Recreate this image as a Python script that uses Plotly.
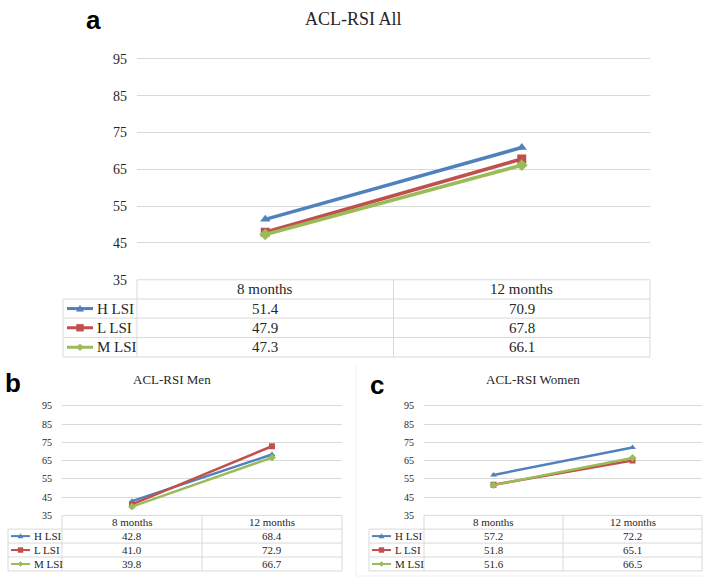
import plotly.graph_objects as go

# ---------------- data ----------------
months = ["8 months", "12 months"]
series_names = ["H LSI", "L LSI", "M LSI"]
y_ticks = [35, 45, 55, 65, 75, 85, 95]

all_h = [51.4, 70.9]
all_l = [47.9, 67.8]
all_m = [47.3, 66.1]

men_h = [42.8, 68.4]
men_l = [41.0, 72.9]
men_m = [39.8, 66.7]

women_h = [57.2, 72.2]
women_l = [51.8, 65.1]
women_m = [51.6, 66.5]

titles = ["ACL-RSI All", "ACL-RSI Men", "ACL-RSI Women"]
letters = ["a", "b", "c"]

# ---------------- styles ----------------
W, H = 706, 586
colors = ["#4F81BD", "#C0504D", "#9BBB59"]
symbols = ["triangle-up", "square", "diamond"]
GRID = "#d9d9d9"
TXT = "#262626"
SERIF = "Liberation Serif"
SANS = "Liberation Sans"
YMIN, YMAX, YTOP = 35, 95, 95.6


def px(x):
    return x / W


def py(y):
    return 1 - y / H


panels = [
    dict(data=[all_h, all_l, all_m], x0=137, x1=650, ytop=55, ybot=281,
         leg0=63, rows=[281, 300.7, 320.2, 340, 360], key=(67, 93), txt=95,
         tick=14, font=15, tfont=18, lw=3.5, ms=9, kms=7,
         title_xy=(353, 14), letter_xy=(93, 15)),
    dict(data=[men_h, men_l, men_m], x0=62, x1=342, ytop=410, ybot=522,
         leg0=8, rows=[522, 536, 550.3, 564.5, 578.8], key=(11, 30), txt=32,
         tick=10, font=11, tfont=13, lw=2.5, ms=6, kms=5,
         title_xy=(172, 383), letter_xy=(13, 387)),
    dict(data=[women_h, women_l, women_m], x0=424, x1=702, ytop=410, ybot=522,
         leg0=369, rows=[522, 536, 550.3, 564.5, 578.8], key=(372, 391), txt=393,
         tick=10, font=11, tfont=13, lw=2.5, ms=6, kms=5,
         title_xy=(533, 383), letter_xy=(377, 389)),
]

fig = go.Figure()
shapes = []
annotations = []

for i, p in enumerate(panels):
    suffix = "" if i == 0 else str(i + 1)
    xa, ya = "x" + suffix, "y" + suffix
    for s, (name, vals) in enumerate(zip(series_names, p["data"])):
        fig.add_trace(go.Scatter(
            x=months, y=vals, name=name, mode="lines+markers",
            xaxis=xa, yaxis=ya, showlegend=False,
            line=dict(color=colors[s], width=p["lw"]),
            marker=dict(symbol=symbols[s], size=p["ms"], color=colors[s]),
        ))
    ppu = (p["ybot"] - p["ytop"]) / (YMAX - YMIN)
    top_px = p["ybot"] - (YTOP - YMIN) * ppu
    fig.update_layout(**{
        "xaxis" + suffix: dict(
            domain=[px(p["x0"]), px(p["x1"])], anchor=ya, type="category",
            range=[-0.5, 1.5], showticklabels=False, showgrid=False,
            zeroline=False, showline=False, ticks="", fixedrange=True),
        "yaxis" + suffix: dict(
            domain=[py(p["ybot"]), py(top_px)], anchor=xa,
            range=[YMIN, YTOP], tickvals=y_ticks, showgrid=True, gridcolor=GRID,
            gridwidth=1, zeroline=False, showline=False, ticks="",
            ticklabelstandoff=9, fixedrange=True,
            tickfont=dict(family=SERIF, size=p["tick"], color=TXT)),
    })

    # ---- table ----
    rows = p["rows"]
    xmid = (p["x0"] + p["x1"]) / 2
    col_edges = [p["x0"], xmid, p["x1"]]
    shapes.append(dict(type="line", xref="paper", yref="paper",
                       x0=px(p["x0"]), x1=px(p["x1"]), y0=py(rows[0]), y1=py(rows[0]),
                       line=dict(color=GRID, width=1)))
    for r in rows[1:]:
        shapes.append(dict(type="line", xref="paper", yref="paper",
                           x0=px(p["leg0"]), x1=px(p["x1"]), y0=py(r), y1=py(r),
                           line=dict(color=GRID, width=1)))
    shapes.append(dict(type="line", xref="paper", yref="paper",
                       x0=px(p["leg0"]), x1=px(p["leg0"]), y0=py(rows[1]), y1=py(rows[-1]),
                       line=dict(color=GRID, width=1)))
    for cx in col_edges:
        shapes.append(dict(type="line", xref="paper", yref="paper",
                           x0=px(cx), x1=px(cx), y0=py(rows[0]), y1=py(rows[-1]),
                           line=dict(color=GRID, width=1)))
    for c, m in enumerate(months):
        cxc = (col_edges[c] + col_edges[c + 1]) / 2
        annotations.append(dict(x=px(cxc), y=py((rows[0] + rows[1]) / 2),
                                xref="paper", yref="paper", text=m, showarrow=False,
                                xanchor="center", yanchor="middle",
                                font=dict(family=SERIF, size=p["font"], color=TXT)))
    for s, (name, vals) in enumerate(zip(series_names, p["data"])):
        yc = (rows[s + 1] + rows[s + 2]) / 2
        k0, k1 = p["key"]
        shapes.append(dict(type="line", xref="paper", yref="paper",
                           x0=px(k0), x1=px(k1), y0=py(yc), y1=py(yc),
                           line=dict(color=colors[s], width=p["lw"] - 0.5)))
        kx = (k0 + k1) / 2
        h = p["kms"] / 2
        if symbols[s] == "triangle-up":
            path = (f"M {px(kx - h)} {py(yc + h * 0.8)} L {px(kx + h)} {py(yc + h * 0.8)} "
                    f"L {px(kx)} {py(yc - h)} Z")
        elif symbols[s] == "square":
            path = (f"M {px(kx - h)} {py(yc - h)} L {px(kx + h)} {py(yc - h)} "
                    f"L {px(kx + h)} {py(yc + h)} L {px(kx - h)} {py(yc + h)} Z")
        else:
            path = (f"M {px(kx - h)} {py(yc)} L {px(kx)} {py(yc - h)} "
                    f"L {px(kx + h)} {py(yc)} L {px(kx)} {py(yc + h)} Z")
        shapes.append(dict(type="path", xref="paper", yref="paper", path=path,
                           fillcolor=colors[s], line=dict(color=colors[s], width=0.5)))
        annotations.append(dict(x=px(p["txt"]), y=py(yc), xref="paper", yref="paper",
                                text=name, showarrow=False, xanchor="left",
                                yanchor="middle",
                                font=dict(family=SERIF, size=p["font"], color=TXT)))
        for c, v in enumerate(vals):
            cxc = (col_edges[c] + col_edges[c + 1]) / 2
            annotations.append(dict(x=px(cxc), y=py(yc), xref="paper", yref="paper",
                                    text=f"{v:.1f}", showarrow=False,
                                    xanchor="center", yanchor="middle",
                                    font=dict(family=SERIF, size=p["font"], color=TXT)))
    tx, ty = p["title_xy"]
    annotations.append(dict(x=px(tx), y=py(ty), xref="paper", yref="paper",
                            text=titles[i], showarrow=False, xanchor="center",
                            yanchor="middle",
                            font=dict(family=SERIF, size=p["tfont"], color=TXT)))
    lx, ly = p["letter_xy"]
    annotations.append(dict(x=px(lx), y=py(ly), xref="paper", yref="paper",
                            text=f"<b>{letters[i]}</b>", showarrow=False,
                            xanchor="center", yanchor="middle",
                            font=dict(family=SANS, size=26, color="#000000")))

shapes.append(dict(type="line", xref="paper", yref="paper", x0=px(356), x1=px(356),
                   y0=py(368), y1=py(584), line=dict(color="#f0f0f0", width=1)))
shapes.append(dict(type="line", xref="paper", yref="paper", x0=px(356), x1=px(706),
                   y0=py(584), y1=py(584), line=dict(color="#f0f0f0", width=1)))

fig.update_layout(
    width=W, height=H, autosize=False,
    margin=dict(l=0, r=0, t=0, b=0),
    paper_bgcolor="white", plot_bgcolor="white",
    showlegend=False, shapes=shapes, annotations=annotations,
    hovermode=False,
)

fig.write_html(
    "out.html",
    config={"displayModeBar": False, "staticPlot": True},
    post_script="document.body.style.margin='0';document.body.style.overflow='hidden';",
)
